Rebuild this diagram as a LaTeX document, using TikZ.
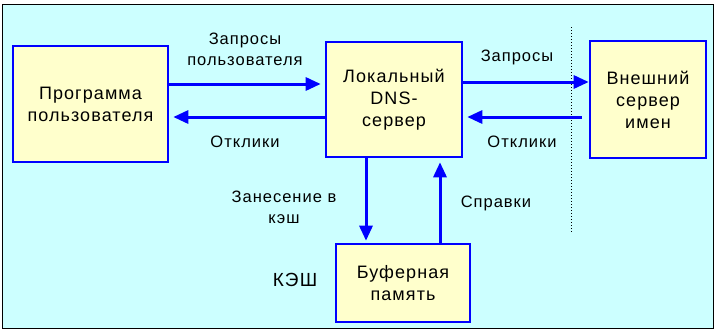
\documentclass[tikz,border=0pt]{standalone}
\usepackage{fontspec}
\setmainfont{Liberation Sans}[LetterSpace=6]
\usetikzlibrary{arrows.meta, positioning, calc}

\definecolor{bgcyan}{HTML}{CCFFFF}
\definecolor{boxyellow}{HTML}{FFFFCC}
\definecolor{linkblue}{HTML}{0000FF}

\begin{document}
\begin{tikzpicture}[x=1pt, y=-1pt, >={Triangle[length=15pt, width=13pt]},
  block/.style={draw=linkblue, line width=2.6pt, fill=boxyellow, align=center,
    inner sep=0pt, font=\fontsize{18}{22}\selectfont},
  flow/.style={->, draw=linkblue, line width=3pt},
  lbl/.style={align=center, font=\fontsize{16.5}{21}\selectfont}]
  \useasboundingbox (0,0) rectangle (720,333);
  % frame
  \draw[black, line width=1.5pt, fill=bgcyan] (2.5,4.5) rectangle (713.5,328.5);
  % blocks
  \node[block, minimum width=155pt, minimum height=116pt] (prog) at (90.5,104) {Программа\\пользователя};
  \node[block, minimum width=136pt, minimum height=115pt] (dns) at (394,99.5) {Локальный\\DNS-\\сервер};
  \node[block, minimum width=116pt, minimum height=117pt] (ext) at (648,99.5) {Внешний\\сервер\\имен};
  \node[block, minimum width=134pt, minimum height=78pt] (buf) at (403,283) {Буферная\\память};
  % border between local and outside
  \draw[dotted, line width=1pt] (571,27) -- (571,233);
  % flows
  \draw[flow, shorten >=4pt] ([yshift=20pt]prog.east) -- ([yshift=20pt]prog.east -| dns.west);
  \draw[flow, shorten >=4pt] ([yshift=-17.5pt]dns.west) -- ([yshift=-17.5pt]dns.west -| prog.east);
  \draw[flow] ([yshift=17.5pt]dns.east) -- ([yshift=17.5pt]dns.east -| ext.west);
  \draw[flow, shorten <=7pt, shorten >=4pt] ([yshift=-17.5pt]ext.west) -- ([yshift=-17.5pt]ext.west -| dns.east);
  \draw[flow, shorten >=2pt] ([xshift=-28pt]dns.south) -- ([xshift=-28pt]dns.south |- buf.north);
  \draw[flow, shorten >=4pt] ([xshift=46pt]dns.south |- buf.north) -- ([xshift=46pt]dns.south);
  % labels
  \node[lbl] (qusr) at (245,49) {Запросы\\пользователя};
  \node[lbl] (ansl) at (245,142) {Отклики};
  \node[lbl] (qext) at (517,57) {Запросы};
  \node[lbl] (ansr) at (522,142) {Отклики};
  \node[lbl] (tocache) at (284,207) {Занесение в\\кэш};
  \node[lbl] (lookup) at (496,203) {Справки};
  \node[lbl, font=\fontsize{19}{22}\selectfont] (cache) at (295,280) {КЭШ};
\end{tikzpicture}
\end{document}
